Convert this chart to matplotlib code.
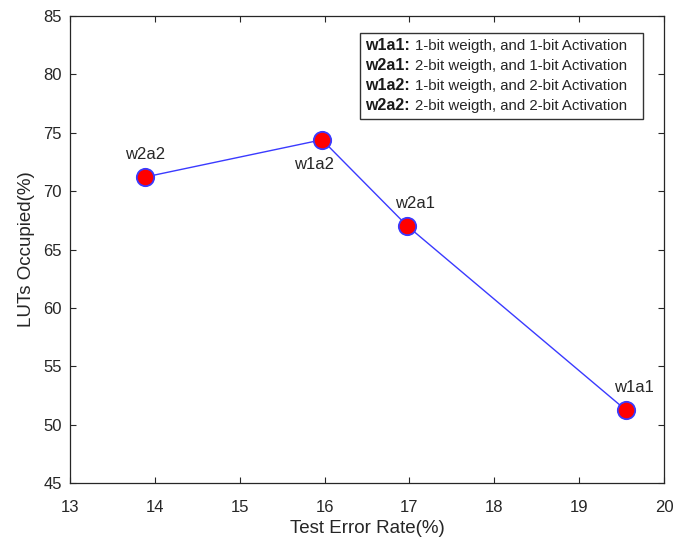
import matplotlib
matplotlib.use("Agg")
import matplotlib.pyplot as plt
from matplotlib.patches import Rectangle

plt.rcParams['font.family'] = ['Liberation Sans', 'DejaVu Sans']

names = ["w2a2", "w1a2", "w2a1", "w1a1"]
error_rate = [13.88, 15.97, 16.97, 19.55]
luts = [71.2, 74.4, 67.05, 51.25]
label_offsets = [(0, 16), (-6, -18), (6, 16), (6, 16)]

legend_keys = ["w1a1:", "w2a1:", "w1a2:", "w2a2:"]
legend_desc = ["1-bit weigth, and 1-bit Activation",
               "2-bit weigth, and 1-bit Activation",
               "1-bit weigth, and 2-bit Activation",
               "2-bit weigth, and 2-bit Activation"]

xticks = [13, 14, 15, 16, 17, 18, 19, 20]
yticks = [45, 50, 55, 60, 65, 70, 75, 80, 85]

grey = '#262626'
fig = plt.figure(figsize=(6.75, 5.45), dpi=100)
AX_L, AX_R, AX_T, AX_B = 70, 664, 16, 483
ax = fig.add_axes([AX_L/675, (545-AX_B)/545, (AX_R-AX_L)/675, (AX_B-AX_T)/545])

ax.plot(error_rate, luts, '-', color='#3a3aff', lw=1.0, zorder=2)
ax.plot(error_rate, luts, 'o', ms=12.5, mfc='red', mec='#3a3aff', mew=1.3, zorder=3)

for n, x, y, off in zip(names, error_rate, luts, label_offsets):
    ax.annotate(n, (x, y), xytext=off, textcoords='offset points',
                ha='center', va='center', fontsize=12, color=grey)

ax.set_xlim(13, 20)
ax.set_ylim(45, 85)
ax.set_xticks(xticks)
ax.set_yticks(yticks)
ax.tick_params(direction='in', length=4, width=0.8, colors=grey, labelsize=12,
               top=True, right=True)
ax.tick_params(axis='x', pad=12)
ax.tick_params(axis='y', pad=6)
for s in ax.spines.values():
    s.set_color(grey)
    s.set_linewidth(0.9)
ax.set_xlabel("Test Error Rate(%)", fontsize=13.5, color=grey, labelpad=4)
ax.set_ylabel("LUTs Occupied(%)", fontsize=13.5, color=grey, labelpad=6)

# legend box
W, H = AX_R-AX_L, AX_B-AX_T
x0, x1 = (360-AX_L)/W, (643-AX_L)/W
yb, yt = (AX_B-119)/H, (AX_B-33)/H
ax.add_patch(Rectangle((x0, yb), x1-x0, yt-yb, transform=ax.transAxes,
                       fill=True, facecolor='white', edgecolor='#333333', lw=1.0, zorder=4))
row_px = [46, 66, 86, 106]
for key, desc, ry in zip(legend_keys, legend_desc, row_px):
    yy = (AX_B-ry)/H
    t = ax.text((365-AX_L)/W, yy, key, transform=ax.transAxes, fontsize=11.5,
                fontweight='bold', color='#1a1a1a',
                va='center', ha='left', zorder=5)
    ax.annotate(desc, xy=(1, 0.5), xycoords=t, xytext=(4, 0),
                textcoords='offset points', va='center', ha='left',
                fontsize=10.8, color=grey, zorder=5)

fig.savefig("out.png", dpi=100)
